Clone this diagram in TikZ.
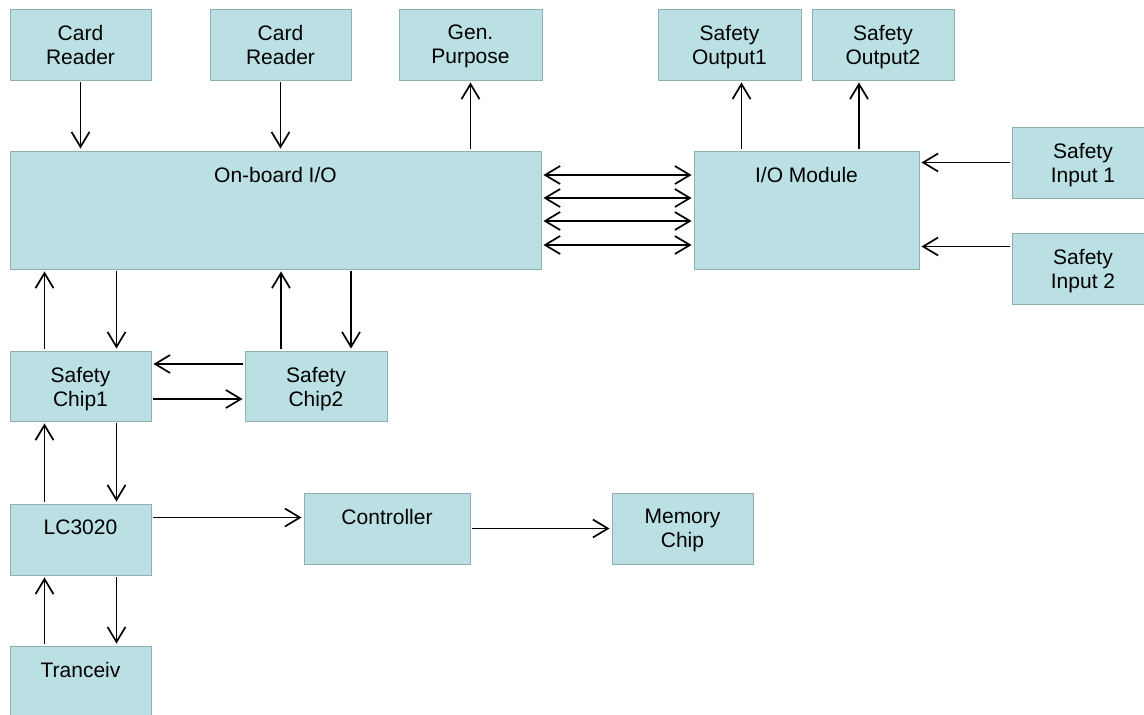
\documentclass[tikz,border=0pt]{standalone}
\usepackage{fontspec}
\setmainfont{Liberation Sans}
\usetikzlibrary{arrows.meta}

\definecolor{boxfill}{RGB}{186,224,227}
\definecolor{boxline}{RGB}{140,176,180}

\begin{document}
\begin{tikzpicture}[
    x=1pt, y=-1pt,
    every node/.style={font=\fontsize{21}{24}\selectfont},
    blk/.style={draw=boxline, fill=boxfill, line width=0.9pt,
        minimum width=141pt, minimum height=71pt, inner sep=0pt},
    txt/.style={anchor=north, align=center, inner sep=0pt, yshift=-16.5pt},
    arr/.style={-{Straight Barb[length=15pt,width=18pt]}, line width=1.7pt,
        shorten <=2pt, shorten >=2pt},
    dbl/.style={{Straight Barb[length=15pt,width=18pt]}-{Straight Barb[length=15pt,width=18pt]},
        line width=1.7pt, shorten <=2pt, shorten >=2pt},
]

\useasboundingbox (0,0) rectangle (1144,715);
\clip (0,0) rectangle (1144,715);

% === Top row ===
\node[blk, label={[txt]north:{Card\\Reader}}] (cr1) at (80.5,44.5) {};
\node[blk, label={[txt]north:{Card\\Reader}}] (cr2) at (280.5,44.5) {};
\node[blk, minimum width=143pt, label={[txt]north:{Gen.\\Purpose}}] (gen) at (470.5,44.5) {};
\node[blk, minimum width=143pt, label={[txt]north:{Safety\\Output1}}] (so1) at (729.5,44.5) {};
\node[blk, minimum width=142pt, label={[txt]north:{Safety\\Output2}}] (so2) at (883,44.5) {};

% === I/O blocks ===
\node[blk, minimum width=531pt, minimum height=118pt, label={[txt]north:On-board I/O}] (obio) at (275.5,210) {};
\node[blk, minimum width=225pt, minimum height=118pt, label={[txt]north:I/O Module}] (iom) at (806.5,210) {};
\node[blk, minimum width=142pt, label={[txt]north:{Safety\\Input 1}}] (si1) at (1083,162.5) {};
\node[blk, minimum width=142pt, label={[txt]north:{Safety\\Input 2}}] (si2) at (1083,268.5) {};

% === Safety chips ===
\node[blk, minimum height=70pt, label={[txt]north:{Safety\\Chip1}}] (sc1) at (80.5,386) {};
\node[blk, minimum width=142pt, minimum height=70pt, label={[txt]north:{Safety\\Chip2}}] (sc2) at (316,386) {};

% === Lower chain ===
\node[blk, label={[txt]north:LC3020}] (lc) at (80.5,539.5) {};
\node[blk, minimum width=166pt, label={[txt]north:Controller}] (ctl) at (387,528.5) {};
\node[blk, label={[txt]north:{Memory\\Chip}}] (mem) at (682.5,528.5) {};
\node[blk, label={[txt]north:Tranceiv}] (trx) at (80.5,681.5) {};

% === Connectors, top ===
\draw[arr] (cr1.south) -- (cr1.south |- obio.north);
\draw[arr] (cr2.south) -- (cr2.south |- obio.north);
\draw[arr] (gen.south |- obio.north) -- (gen.south);
\draw[arr] ([xshift=12pt]so1.south |- iom.north) -- ([xshift=12pt]so1.south);
\draw[arr] ([xshift=-24pt]so2.south |- iom.north) -- ([xshift=-24pt]so2.south);
\draw[arr] (si1.west) -- (si1.west -| iom.east);
\draw[arr] ([yshift=22pt]si2.west) -- ([yshift=22pt]si2.west -| iom.east);

% bus between on-board I/O and module
\foreach \dy in {35,12,-11,-35} {
    \draw[dbl] ([yshift=\dy pt]obio.east) -- ([yshift=\dy pt]iom.west);
}

% === Connectors, chips ===
\draw[arr] ([xshift=-36pt]sc1.north) -- ([xshift=-36pt]sc1.north |- obio.south);
\draw[arr] ([xshift=36pt]sc1.north |- obio.south) -- ([xshift=36pt]sc1.north);
\draw[arr] ([xshift=-35pt]sc2.north) -- ([xshift=-35pt]sc2.north |- obio.south);
\draw[arr] ([xshift=35pt]sc2.north |- obio.south) -- ([xshift=35pt]sc2.north);
\draw[arr] ([yshift=22pt]sc2.west) -- ([yshift=22pt]sc2.west -| sc1.east);
\draw[arr] ([yshift=-13pt]sc1.east) -- ([yshift=-13pt]sc1.east -| sc2.west);

% === Connectors, lower chain ===
\draw[arr] ([xshift=-36pt]lc.north) -- ([xshift=-36pt]lc.north |- sc1.south);
\draw[arr] ([xshift=36pt]sc1.south) -- ([xshift=36pt]sc1.south |- lc.north);
\draw[arr] ([xshift=-36pt]trx.north) -- ([xshift=-36pt]trx.north |- lc.south);
\draw[arr] ([xshift=36pt]lc.south) -- ([xshift=36pt]lc.south |- trx.north);
\draw[arr] ([yshift=22pt]lc.east) -- ([yshift=22pt]lc.east -| ctl.west);
\draw[arr] (ctl.east) -- (ctl.east -| mem.west);

\end{tikzpicture}
\end{document}
